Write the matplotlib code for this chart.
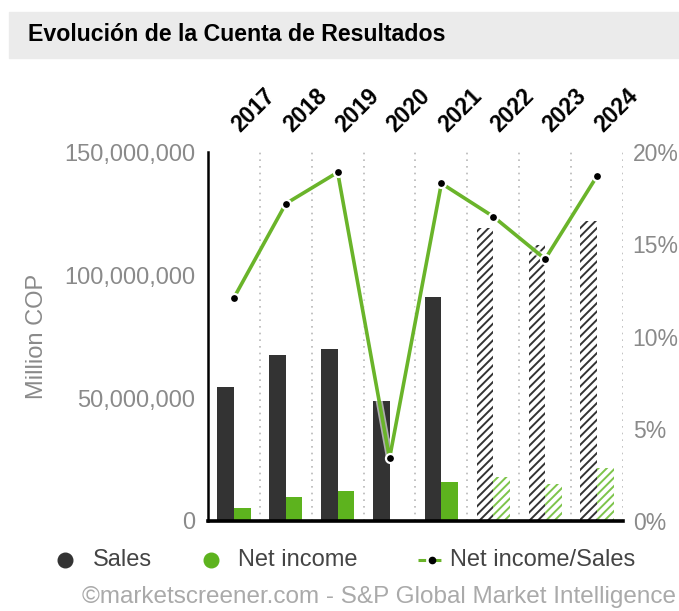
import numpy as np
import matplotlib.pyplot as plt
import matplotlib.transforms as mtransforms
from matplotlib.lines import Line2D
from matplotlib.ticker import FuncFormatter

plt.rcParams['font.family'] = ['Liberation Sans', 'DejaVu Sans']
plt.rcParams['hatch.linewidth'] = 1.4

# values (Million COP, ratio in %)
years = ["2017", "2018", "2019", "2020", "2021", "2022", "2023", "2024"]
sales = [54600000, 67500000, 69900000, 48900000, 91200000, 119000000, 112200000, 122000000]
net_income = [5200000, 9900000, 12300000, 0, 15700000, 18000000, 14900000, 21400000]
margin = [12.1, 17.2, 18.9, 3.4, 18.3, 16.5, 14.2, 18.7]
estimate = [False, False, False, False, False, True, True, True]

dark = "#333333"
green = "#5db31e"
green_light = "#7dc44a"
line_green = "#6ab42a"
grey_txt = "#8a8a8a"

fig = plt.figure(figsize=(6.79, 6.11), dpi=100)

# title band
fig.patches.append(plt.Rectangle((0.013, 0.905), 0.99, 0.076, transform=fig.transFigure,
                                 color="#ebebeb", zorder=0))
fig.text(0.041, 0.944, "Evolución de la Cuenta de Resultados", fontsize=16.7,
         fontweight="bold", color="black", va="center", ha="left")

ax = fig.add_axes([0.3063, 0.1473, 0.6112, 0.6039])
x = np.arange(len(years))
w = 0.32

for i in range(len(years)):
    if estimate[i]:
        ax.bar(x[i] - w / 2, sales[i], w, color="white", edgecolor=dark, hatch="////", linewidth=0, zorder=2)
        ax.bar(x[i] + w / 2, net_income[i], w, color="white", edgecolor=green_light, hatch="////", linewidth=0, zorder=2)
    else:
        ax.bar(x[i] - w / 2, sales[i], w, color=dark, linewidth=0, zorder=2)
        ax.bar(x[i] + w / 2, net_income[i], w, color=green, linewidth=0, zorder=2)

for b in np.arange(0.5, len(years), 1.0):
    ax.axvline(b, color="#b8b8b8", linestyle=(0, (1, 3)), linewidth=1.2, zorder=1)

ax.set_xlim(-0.5, len(years) - 0.5)
ax.set_ylim(0, 150000000)
ax.set_yticks([0, 50000000, 100000000, 150000000])
ax.yaxis.set_major_formatter(FuncFormatter(lambda v, p: "{:,.0f}".format(v)))
ax.tick_params(axis="y", length=0, pad=9, labelsize=17, labelcolor=grey_txt)
ax.set_ylabel("Million COP", fontsize=17, color=grey_txt, labelpad=12)

ax.xaxis.tick_top()
ax.set_xticks(x)
ax.set_xticklabels(years, rotation=45, ha="left", va="bottom", rotation_mode="anchor",
                   fontsize=16.5, fontweight="bold")
ax.tick_params(axis="x", length=0, pad=11)
shift = mtransforms.ScaledTranslation(7 / 72, 0, fig.dpi_scale_trans)
for lab in ax.get_xticklabels():
    lab.set_transform(lab.get_transform() + shift)

for s in ["top", "right"]:
    ax.spines[s].set_visible(False)
ax.spines["left"].set_linewidth(1.8)
ax.spines["bottom"].set_linewidth(2.6)
ax.spines["left"].set_color("black")
ax.spines["bottom"].set_color("black")

ax2 = ax.twinx()
ax2.set_ylim(0, 20)
ax2.set_yticks([0, 5, 10, 15, 20])
ax2.yaxis.set_major_formatter(FuncFormatter(lambda v, p: "%d%%" % v))
ax2.tick_params(axis="y", length=0, pad=7, labelsize=16.5, labelcolor=grey_txt)
for s in ["top", "right", "left", "bottom"]:
    ax2.spines[s].set_visible(False)
ax2.plot(x, margin, color="white", linewidth=5, alpha=0.6, zorder=3)
ax2.plot(x, margin, color=line_green, linewidth=2.6, zorder=4,
         marker="o", markersize=6.5, markerfacecolor="black", markeredgecolor="white", markeredgewidth=1.6)

# legend, laid out by hand in figure pixels
def fx(px):
    return px / 679.0

ly = 1 - 560 / 611.0
fig.add_artist(Line2D([fx(65)], [ly], linestyle="none", marker="o", markersize=10.5, color=dark,
                      transform=fig.transFigure))
fig.text(fx(93), ly, "Sales", fontsize=17, color="#444444", va="center", ha="left")
fig.add_artist(Line2D([fx(211)], [ly], linestyle="none", marker="o", markersize=10.5, color=green,
                      transform=fig.transFigure))
fig.text(fx(238), ly, "Net income", fontsize=17, color="#444444", va="center", ha="left")
fig.add_artist(Line2D([fx(418), fx(446)], [ly, ly], linestyle="--", dashes=(2.5, 2.5), color=line_green,
                      linewidth=2.2, transform=fig.transFigure))
fig.add_artist(Line2D([fx(432)], [ly], linestyle="none", marker="o", markersize=4.5, color="black",
                      transform=fig.transFigure))
fig.text(fx(450), ly, "Net income/Sales", fontsize=17, color="#444444", va="center", ha="left")

fig.text(fx(82), 1 - 597 / 611.0, "©marketscreener.com - S&P Global Market Intelligence", fontsize=17.5,
         color="#aaaaaa", ha="left", va="center")

fig.savefig("out.png", dpi=100)
